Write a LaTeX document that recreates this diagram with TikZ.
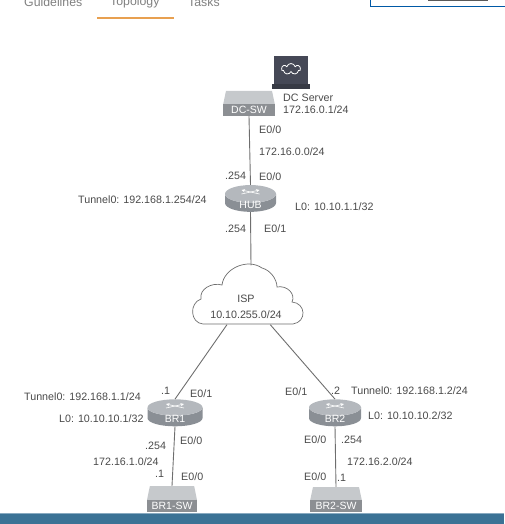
\documentclass[tikz,border=0pt]{standalone}
\usepackage{fontspec}
\setmainfont{Liberation Sans}
\usetikzlibrary{shapes.geometric,shapes.symbols}
\definecolor{labelgray}{HTML}{4A4A4A}
\definecolor{linkgray}{HTML}{6E6E6E}
\definecolor{routerbody}{HTML}{8A8F95}
\definecolor{routertop}{HTML}{B4B8BD}
\definecolor{swfront}{HTML}{8C8F93}
\definecolor{swtopcol}{HTML}{C6C9CC}
\definecolor{serverdark}{HTML}{454856}
\definecolor{barblue}{HTML}{3B7295}
\definecolor{tabline}{HTML}{E8A050}
\newcommand{\lowtext}[1]{\smash{\raisebox{-5pt}{#1}}}
\tikzset{
  lbl/.style={font=\fontsize{10.7}{12}\selectfont, text=labelgray, inner sep=0pt},
  tab/.style={font=\fontsize{12.3}{14}\selectfont, text=gray, inner sep=0pt},
  link/.style={draw=linkgray, line width=0.9pt},
  routerbox/.style={cylinder, shape border rotate=90, aspect=0.8, cylinder uses custom fill,
    cylinder body fill=routerbody, cylinder end fill=routertop, draw=none, inner sep=0pt,
    text=white, font=\fontsize{10.5}{12}\selectfont},
  swbox/.style={rectangle, fill=swfront, text=white, inner sep=0pt, minimum height=12pt,
    font=\fontsize{10.5}{12}\selectfont},
  swtop/.style={trapezium, trapezium stretches=true, trapezium left angle=75, trapezium right angle=75,
    fill=swtopcol, inner sep=0pt, minimum height=14pt, text height=2pt, text depth=0pt},
  routermark/.style={draw=white, line width=0.6pt, ->, >=stealth}
}
\begin{document}
\begin{tikzpicture}[x=1pt, y=-1pt]
    \useasboundingbox (0,0) rectangle (504,524);

    % Tabs
    \node (tabguide) [tab, anchor=west] at (24,2) {Guidelines};
    \node (tabtopo) [tab, anchor=west] at (110,2) {Topology};
    \node (tabtasks) [tab, anchor=west] at (188,2) {Tasks};
    \fill[tabline] (97,17) rectangle (174,19);
    \draw[draw=teal!70!blue, line width=1pt] (370,-6) rectangle (510,7);
    \fill[gray!70!black] (428,-3) rectangle (488,1.5);

    % Devices
    \node (server) [rectangle, fill=serverdark, minimum width=34pt, minimum height=29pt, inner sep=0pt] at (291,71) {};
    \node (serverbase) [rectangle, fill=serverdark!80!black, minimum width=38pt, minimum height=5pt, inner sep=0pt] at (291,87) {};
    \node (servercloud) [cloud, cloud puffs=7, aspect=1.8, draw=white, line width=0.8pt, minimum width=19pt, minimum height=11pt, inner sep=0pt] at (291,69) {};
    \node (dcswtop) [swtop, minimum width=52pt] at (249,98) {\hphantom{M}};
    \node (dcsw) [swbox, minimum width=52pt] at (249,110) {DC-SW};
    \node (hub) [routerbox, minimum width=51pt, minimum height=26pt] at (250.5,203) {\lowtext{HUB}};
    \node (br1) [routerbox, minimum width=55pt, minimum height=27pt] at (175,417) {\lowtext{BR1}};
    \node (br2) [routerbox, minimum width=52pt, minimum height=27pt] at (335,417) {\lowtext{BR2}};
    \node (bronetop) [swtop, minimum width=50pt] at (172,493) {\hphantom{M}};
    \node (brone) [swbox, minimum width=50pt] at (172,505.5) {BR1-SW};
    \node (brtwotop) [swtop, minimum width=52pt] at (336,494) {\hphantom{M}};
    \node (brtwo) [swbox, minimum width=52pt] at (336,505.5) {BR2-SW};

    % The cloud
    \node (isp) [rectangle, inner sep=0pt, minimum width=110pt, minimum height=59pt] at (251,295) {};
    \draw[draw=linkgray, fill=white, line width=0.7pt] (203,324)
      .. controls (190,323) and (189,303) .. (201,299)
      .. controls (199,289) and (212,282) .. (222,285)
      .. controls (224,268) and (248,258) .. (262,268)
      .. controls (270,270) and (277,279) .. (277,287)
      .. controls (287,285) and (296,294) .. (292,302)
      .. controls (306,303) and (307,322) .. (293,324)
      -- cycle;

    % Links
    \draw[link] (dcsw.south) -- (hub.north);
    \draw[link] (hub.south) -- (isp.north);
    \draw[link] (isp.231) -- (br1.north);
    \draw[link] (isp.303) -- (br2.north);
    \draw[link] (br1.south) -- (bronetop.north);
    \draw[link] (br2.south) -- (brtwotop.north);

    % Router marks
    \foreach \r in {hub,br1,br2} {
      \draw[routermark] ([shift={(-9,-9)}]\r.center) -- ([shift={(9,-13)}]\r.center);
      \draw[routermark] ([shift={(9,-9)}]\r.center) -- ([shift={(-9,-13)}]\r.center);
    }

    % Bottom bar
    \fill[barblue] (0,513.5) rectangle (504,524);
    \fill[barblue!60!white] (0,513) rectangle (504,514);

    % Labels top
    \node (srvname) [lbl, anchor=west] at (283,98) {DC Server};
    \node (srvip) [lbl, anchor=west] at (283,110) {172.16.0.1/24};
    \node (dcport) [lbl, anchor=west] at (259,130) {E0/0};
    \node (dcnet) [lbl, anchor=west] at (259,152) {172.16.0.0/24};
    \node (hubdota) [lbl, anchor=west] at (225,176) {.254};
    \node (hubporta) [lbl, anchor=west] at (259,177) {E0/0};
    \node (hubtun) [lbl, anchor=west] at (78,200) {Tunnel0: 192.168.1.254/24};
    \node (hublo) [lbl, anchor=west] at (295,207) {L0: 10.10.1.1/32};
    \node (hubdotb) [lbl, anchor=west] at (225,229) {.254};
    \node (hubportb) [lbl, anchor=west] at (264,229) {E0/1};

    % Cloud text
    \node (ispname) [lbl] at (246,299) {ISP};
    \node (ispnet) [lbl] at (246,315) {10.10.255.0/24};

    % Labels BR1
    \node (onetun) [lbl, anchor=west] at (24,397) {Tunnel0: 192.168.1.1/24};
    \node (onedota) [lbl, anchor=west] at (161,391) {.1};
    \node (oneporta) [lbl, anchor=west] at (190,394) {E0/1};
    \node (onelo) [lbl, anchor=west] at (59,419) {L0: 10.10.10.1/32};
    \node (oneportb) [lbl, anchor=west] at (180,441) {E0/0};
    \node (onedotb) [lbl, anchor=west] at (145,446) {.254};
    \node (onenet) [lbl, anchor=west] at (93,462) {172.16.1.0/24};
    \node (onedotc) [lbl, anchor=west] at (155,474) {.1};
    \node (oneportc) [lbl, anchor=west] at (181,477) {E0/0};

    % Labels BR2
    \node (twoporta) [lbl, anchor=west] at (285,392) {E0/1};
    \node (twodota) [lbl, anchor=west] at (331,391) {.2};
    \node (twotun) [lbl, anchor=west] at (351,391) {Tunnel0: 192.168.1.2/24};
    \node (twolo) [lbl, anchor=west] at (368,416) {L0: 10.10.10.2/32};
    \node (twoportb) [lbl, anchor=west] at (304,440) {E0/0};
    \node (twodotb) [lbl, anchor=west] at (341,440) {.254};
    \node (twonet) [lbl, anchor=west] at (347,462) {172.16.2.0/24};
    \node (twoportc) [lbl, anchor=west] at (304,477) {E0/0};
    \node (twodotc) [lbl, anchor=west] at (337,478) {.1};
\end{tikzpicture}
\end{document}
